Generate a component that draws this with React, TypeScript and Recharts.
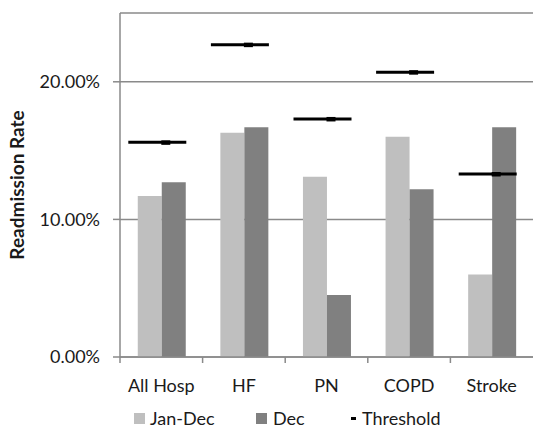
import React from 'react';
import {
  ComposedChart,
  Bar,
  Line,
  XAxis,
  YAxis,
  CartesianGrid,
  Legend,
} from 'recharts';

const categories = ['All Hosp', 'HF', 'PN', 'COPD', 'Stroke'];
const janDec = [11.7, 16.3, 13.1, 16.0, 6.0];
const dec = [12.7, 16.7, 4.5, 12.2, 16.7];
const threshold = [15.6, 22.7, 17.3, 20.7, 13.3];
const yTicks = [0, 10, 20];

const data = categories.map((name, i) => ({
  name,
  janDec: janDec[i],
  dec: dec[i],
  threshold: threshold[i],
}));

const FONT = 'Lato, "Open Sans", sans-serif';
const GRID = '#8a8a8a';
const TEXT = '#1a1a1a';

// category label at centre, tick mark at the left edge of each band
const XTick = (props: any) => {
  const { x, y, payload } = props;
  const half = payload?.offset ?? 41.3;
  const axisY = y - 8;
  return (
    <g>
      <line x1={x - half} y1={axisY} x2={x - half} y2={axisY + 6} stroke={GRID} strokeWidth={1.5} />
      <text x={x} y={axisY + 35} textAnchor="middle" fill={TEXT} fontSize={18} fontFamily={FONT}>
        {payload.value}
      </text>
    </g>
  );
};

const ThresholdMark = (props: any) => {
  const { cx, cy, index } = props;
  if (cx == null || cy == null) return <g key={index} />;
  return (
    <g key={`th-${index}`}>
      <line x1={cx - 33} y1={cy} x2={cx + 25} y2={cy} stroke="#000" strokeWidth={3} />
      <rect x={cx} y={cy - 2} width={9} height={4.5} fill="#000" />
    </g>
  );
};

const YLabel = (props: any) => {
  const { viewBox } = props;
  const cy = viewBox.y + viewBox.height / 2;
  return (
    <text
      x={16}
      y={cy}
      transform={`rotate(-90, 16, ${cy})`}
      textAnchor="middle"
      dominantBaseline="central"
      fill={TEXT}
      fontSize={19}
      fontWeight="bold"
      fontFamily={FONT}
    >
      Readmission Rate
    </text>
  );
};

const renderLegend = () => (
  <div
    style={{
      height: 33,
      position: 'relative',
      fontFamily: FONT,
      fontSize: 18,
      color: TEXT,
    }}
  >
    <span style={{ position: 'absolute', left: 134, top: 16, width: 11, height: 11, background: '#bfbfbf' }} />
    <span style={{ position: 'absolute', left: 150, top: 10, lineHeight: '22px' }}>Jan-Dec</span>
    <span style={{ position: 'absolute', left: 256, top: 16, width: 11, height: 11, background: '#808080' }} />
    <span style={{ position: 'absolute', left: 273, top: 10, lineHeight: '22px' }}>Dec</span>
    <span style={{ position: 'absolute', left: 351, top: 20, width: 5, height: 3, background: '#000' }} />
    <span style={{ position: 'absolute', left: 362, top: 10, lineHeight: '22px' }}>Threshold</span>
  </div>
);

export default function App() {
  return (
    <div style={{ position: 'absolute', left: 0, top: 0, width: 533, height: 430, background: '#fff' }}>
      <ComposedChart
        width={533}
        height={430}
        data={data}
        margin={{ top: 13, right: 0, left: 0, bottom: 0 }}
        barCategoryGap="21.5%"
        barGap={0}
      >
        <CartesianGrid vertical={false} stroke={GRID} strokeWidth={1.5} />
        <XAxis
          dataKey="name"
          interval={0}
          height={40}
          tickLine={false}
          axisLine={{ stroke: GRID, strokeWidth: 1.5 }}
          tick={<XTick />}
        />
        <YAxis
          width={120}
          domain={[0, 25]}
          ticks={yTicks}
          tickFormatter={(v: number) => `${v.toFixed(2)}%`}
          tickSize={7}
          tickMargin={13}
          axisLine={{ stroke: GRID, strokeWidth: 1.5 }}
          tickLine={{ stroke: GRID, strokeWidth: 1.5 }}
          tick={{ fill: TEXT, fontSize: 18, fontFamily: FONT }}
          label={<YLabel />}
        />
        <Legend verticalAlign="bottom" content={renderLegend} wrapperStyle={{ left: 0, width: 533 }} />
        <Bar dataKey="janDec" name="Jan-Dec" fill="#bfbfbf" isAnimationActive={false} />
        <Bar dataKey="dec" name="Dec" fill="#808080" isAnimationActive={false} />
        <Line
          dataKey="threshold"
          name="Threshold"
          stroke="none"
          dot={ThresholdMark}
          activeDot={false}
          isAnimationActive={false}
        />
      </ComposedChart>
    </div>
  );
}
